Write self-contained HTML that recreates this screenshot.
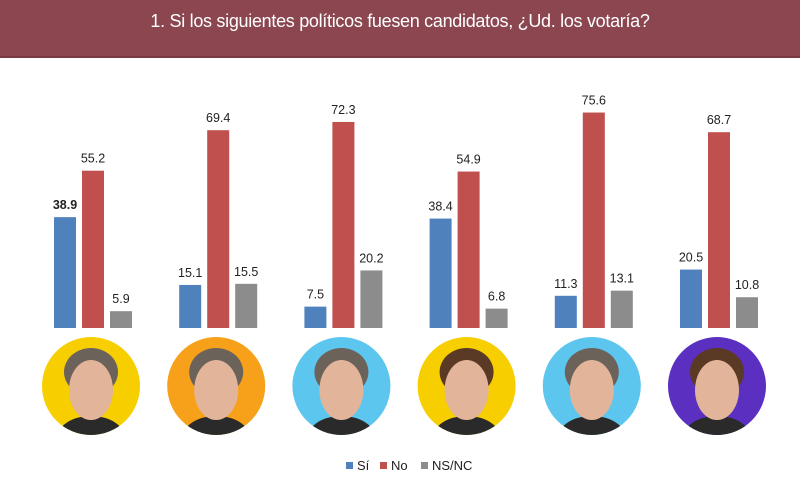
<!DOCTYPE html>
<html><head><meta charset="utf-8"><style>
body{margin:0;width:800px;height:504px;background:#fff;overflow:hidden;font-family:"Liberation Sans",sans-serif}
#title{position:absolute;left:0;top:0;width:800px;height:56px;background:#8b4650;border-bottom:2px solid #7a3a44;color:#fff;font-size:18px;letter-spacing:-0.3px;text-align:center;line-height:42px}
svg{position:absolute;left:0;top:0}
</style></head><body>
<div id="title">1. Si los siguientes políticos fuesen candidatos, ¿Ud. los votaría?</div>
<svg id="chart" width="800" height="504"></svg>
<script>
const candidates=["Macri","Massa","Urtubey","Vidal","Pichetto","Kirchner"];
const si=[38.9,15.1,7.5,38.4,11.3,20.5];
const no=[55.2,69.4,72.3,54.9,75.6,68.7];
const nsnc=[5.9,15.5,20.2,6.8,13.1,10.8];
const circleColors=["#f7cf00","#f7a11a","#5cc6ee","#f7cf00","#5cc6ee","#5b2fbf"];
const NS="http://www.w3.org/2000/svg";
const svg=document.getElementById('chart');
const base=328, scale=2.85;
const y=v=>base-v*scale;
const xc=i=>93+i*125.2;
function mk(t,a){const e=document.createElementNS(NS,t);for(const k in a)e.setAttribute(k,a[k]);svg.appendChild(e);return e;}
const series=[[si,"#4f81bd",-28,"si"],[no,"#c0504d",0,"no"],[nsnc,"#8c8c8c",28,"nsnc"]];
candidates.forEach((c,i)=>{
 series.forEach(([arr,col,off,nm])=>{
  const v=arr[i], x=xc(i)+off;
  const r=mk('rect',{x:x-11,y:y(v),width:22,height:v*scale,fill:col});
  
  
  const t=mk('text',{x:x,y:y(v)-8,'text-anchor':'middle','font-size':12.5,fill:'#222','font-weight':(i==0&&nm=='si')?'bold':'normal'});
  t.textContent=v.toFixed(1);
  
  
 });
 const cx=xc(i)-2, cy=386;
 const g=mk('circle',{cx:cx,cy:cy,r:49,fill:circleColors[i]});
 
 
 const cp=mk('clipPath',{id:'cp'+i});
 const cc=document.createElementNS(NS,'circle');cc.setAttribute('cx',cx);cc.setAttribute('cy',cy);cc.setAttribute('r',49);cp.appendChild(cc);
 const body=mk('ellipse',{cx:cx,cy:cy+52,rx:34,ry:22,fill:'#2a2a2a','clip-path':'url(#cp'+i+')'});
 
 
 const hair=mk('ellipse',{cx:cx,cy:cy-14,rx:27,ry:24,fill:i==3||i==5?'#5a3a24':'#6b625a'});
 
 
 const face=mk('ellipse',{cx:cx,cy:cy+4,rx:22,ry:30,fill:'#e2b49a'});
 
 
});
const leg=[["#4f81bd","Sí",346],["#c0504d","No",380],["#8c8c8c","NS/NC",421]];
leg.forEach(([col,lab,x])=>{
 const r=mk('rect',{x:x,y:462,width:7,height:7,fill:col});
 
 
 const t=mk('text',{x:x+11,y:470,'font-size':13,fill:'#222'});
 t.textContent=lab;
 
 
});
</script>
</body></html>
